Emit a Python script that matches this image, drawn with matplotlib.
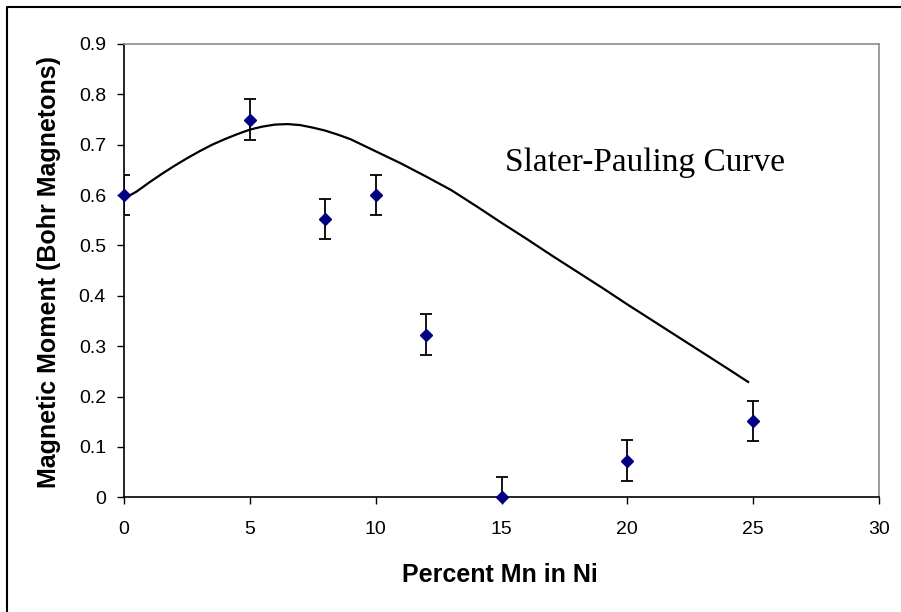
import numpy as np
import matplotlib
matplotlib.use("Agg")
import matplotlib.pyplot as plt
from matplotlib.lines import Line2D

# measured moments with their uncertainty
mn_percent = [0, 5, 8, 10, 12, 15, 20, 25]
moment = [0.60, 0.75, 0.553, 0.60, 0.323, 0.0, 0.073, 0.152]
moment_err = [0.04, 0.04, 0.04, 0.04, 0.04, 0.04, 0.04, 0.04]

# Slater-Pauling curve, read point by point
curve_x = [0, 0.5, 1, 1.5, 2, 2.5, 3, 3.5, 4, 4.5, 5, 5.5, 6, 6.5, 7, 7.5, 8,
           8.5, 9, 9.5, 10, 11, 12, 13, 14, 15, 16, 17, 18, 19, 20, 21, 22,
           23, 24, 24.8]
curve_y = [0.593, 0.607, 0.625, 0.642, 0.658, 0.673, 0.687, 0.700, 0.711,
           0.721, 0.730, 0.736, 0.740, 0.741, 0.739, 0.734, 0.728, 0.720,
           0.711, 0.699, 0.687, 0.663, 0.637, 0.610, 0.578, 0.545, 0.513,
           0.480, 0.448, 0.416, 0.383, 0.351, 0.319, 0.287, 0.255, 0.229]

x_ticks = [0, 5, 10, 15, 20, 25, 30]
y_ticks = [0, 0.1, 0.2, 0.3, 0.4, 0.5, 0.6, 0.7, 0.8, 0.9]
y_tick_labels = ["0", "0.1", "0.2", "0.3", "0.4", "0.5", "0.6", "0.7", "0.8", "0.9"]

plt.rcParams["font.family"] = ["Liberation Sans", "DejaVu Sans"]

W, H = 901, 612
fig = plt.figure(figsize=(W / 100, H / 100), dpi=100)
ax = fig.add_axes([124 / W, 1 - 497.3 / H, (879 - 124) / W, (497.3 - 44) / H])

ax.plot(curve_x, curve_y, color="black", lw=1.6, zorder=2)
ax.errorbar(mn_percent, moment, yerr=moment_err, fmt="none", ecolor="black",
            elinewidth=1.3, capsize=4.6, capthick=1.3, zorder=3)
ax.plot(mn_percent, moment, ls="none", marker="D", ms=6.2, color="#000080",
        zorder=4, clip_on=False)

ax.text(20.7, 0.665, "Slater-Pauling Curve", family="Liberation Serif",
        fontsize=24, ha="center", va="center")

ax.set_xlim(0, 30)
ax.set_ylim(0, 0.9)
ax.set_xticks(x_ticks)
ax.set_yticks(y_ticks)
ax.set_yticklabels(y_tick_labels)
ax.tick_params(axis="both", direction="out", length=5, width=1, labelsize=14,
               color="black")
ax.tick_params(axis="y", pad=8)
ax.tick_params(axis="x", pad=12)

for side in ("top", "right"):
    ax.spines[side].set_color("#8c8c8c")
    ax.spines[side].set_linewidth(1.2)
for side in ("left", "bottom"):
    ax.spines[side].set_color("black")
    ax.spines[side].set_linewidth(1.2)

fig.text(500 / W, 1 - 582 / H, "Percent Mn in Ni", fontsize=18,
         fontweight="bold", ha="center", va="baseline")
fig.text(49 / W, 1 - 272.5 / H, "Magnetic Moment (Bohr Magnetons)",
         fontsize=18, fontweight="bold", rotation=90, ha="center", va="center")

# outer frame: left and top edges
fig.add_artist(Line2D([7 / W, 7 / W, 1.0], [0.0, 1 - 7 / H, 1 - 7 / H],
                      transform=fig.transFigure, color="black", lw=1.5))

fig.savefig("out.png", dpi=100)
